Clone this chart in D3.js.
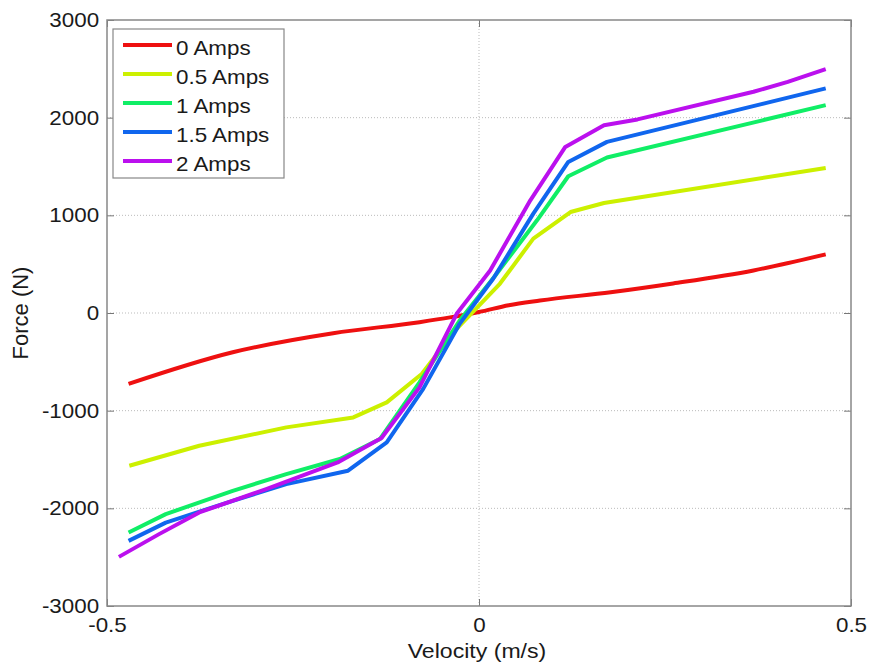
<!DOCTYPE html>
<html><head><meta charset="utf-8">
<script src="https://cdn.jsdelivr.net/npm/d3@7"></script>
<style>body{margin:0;background:#fff}svg{display:block}text{font-family:"Liberation Sans",Arial,sans-serif}</style>
</head><body>
<script>
const seriesNames = ["0 Amps","0.5 Amps","1 Amps","1.5 Amps","2 Amps"];
const seriesColors = ["#ee1010","#ccf000","#10ee66","#1066ee","#bb10ee"];
const amps0 = [[-0.471,-726],[-0.331,-402],[-0.196,-207],[-0.080,-94],[-0.039,-45],[0.000,10],[0.040,80],[0.082,128],[0.177,213],[0.261,303],[0.369,436],[0.466,600]];
const amps05 = [[-0.470,-1564],[-0.376,-1359],[-0.259,-1171],[-0.169,-1069],[-0.124,-915],[-0.077,-624],[-0.032,-179],[0.028,299],[0.073,761],[0.123,1034],[0.168,1126],[0.466,1485]];
const amps1 = [[-0.471,-2248],[-0.421,-2059],[-0.331,-1821],[-0.259,-1649],[-0.187,-1495],[-0.133,-1290],[-0.080,-710],[-0.026,-77],[0.022,385],[0.078,949],[0.120,1400],[0.172,1592],[0.466,2128]];
const amps15 = [[-0.471,-2333],[-0.421,-2146],[-0.331,-1923],[-0.259,-1752],[-0.176,-1615],[-0.124,-1325],[-0.075,-777],[-0.026,-111],[0.019,351],[0.073,1017],[0.120,1547],[0.172,1752],[0.466,2300]];
const amps2 = [[-0.484,-2497],[-0.430,-2264],[-0.376,-2042],[-0.286,-1803],[-0.190,-1530],[-0.131,-1280],[-0.080,-761],[-0.030,-8],[0.015,436],[0.069,1154],[0.116,1700],[0.168,1923],[0.213,1982],[0.369,2265],[0.415,2367],[0.466,2497]];
const seriesData = [amps0, amps05, amps1, amps15, amps2];
const xTicks = [-0.5, 0, 0.5];
const xTickLabels = ["-0.5","0","0.5"];
const yTicks = [-3000,-2000,-1000,0,1000,2000,3000];
const yTickLabels = ["-3000","-2000","-1000","0","1000","2000","3000"];

const W = 870, H = 669;
const L = 107, R = 851, T = 20, B = 606;
const SX = 1.12;
const svg = d3.select("body").append("svg").attr("width", W).attr("height", H);
const x = d3.scaleLinear().domain([-0.5, 0.5]).range([L, R]);
const y = d3.scaleLinear().domain([-3000, 3000]).range([B, T]);

// grid
svg.append("g").selectAll("line").data(xTicks.filter(d => d > -0.5 && d < 0.5)).join("line")
  .attr("x1", d => x(d)).attr("x2", d => x(d)).attr("y1", T).attr("y2", B)
  .attr("stroke", "#bbb").attr("stroke-width", 1).attr("stroke-dasharray", "1,2");
svg.append("g").selectAll("line").data(yTicks.filter(d => d > -3000 && d < 3000)).join("line")
  .attr("x1", L).attr("x2", R).attr("y1", d => y(d)).attr("y2", d => y(d))
  .attr("stroke", "#bbb").attr("stroke-width", 1).attr("stroke-dasharray", "1,2");

// axes (MATLAB style, inward ticks)
const ax = svg.append("g").attr("transform", `translate(0,${B})`)
  .call(d3.axisBottom(x).tickValues(xTicks).tickFormat((d, i) => xTickLabels[i]).tickSizeInner(-7).tickSizeOuter(0).tickPadding(12));
const ay = svg.append("g").attr("transform", `translate(${L},0)`)
  .call(d3.axisLeft(y).tickValues(yTicks).tickFormat((d, i) => yTickLabels[i]).tickSizeInner(-7).tickSizeOuter(0).tickPadding(7));
const axTop = svg.append("g").attr("transform", `translate(0,${T})`)
  .call(d3.axisTop(x).tickValues(xTicks).tickFormat("").tickSizeInner(-7).tickSizeOuter(0));
const ayR = svg.append("g").attr("transform", `translate(${R},0)`)
  .call(d3.axisRight(y).tickValues(yTicks).tickFormat("").tickSizeInner(-7).tickSizeOuter(0));
[ax, ay, axTop, ayR].forEach(g => {
  g.select(".domain").remove();
  g.selectAll("line").attr("stroke", "#777");
  g.selectAll("text").attr("font-size", 20).attr("fill", "#1a1a1a").attr("transform", `scale(${SX},1)`);
});
svg.append("rect").attr("x", L).attr("y", T).attr("width", R - L).attr("height", B - T)
  .attr("fill", "none").attr("stroke", "#888").attr("stroke-width", 1.5);

// lines
const lineSmooth = d3.line().x(d => x(d[0])).y(d => y(d[1])).curve(d3.curveMonotoneX);
const lineStraight = d3.line().x(d => x(d[0])).y(d => y(d[1]));
seriesData.forEach((s, i) => {
  svg.append("path").datum(s).attr("d", i === 0 ? lineSmooth : lineStraight).attr("fill", "none")
    .attr("stroke", seriesColors[i]).attr("stroke-width", 4).attr("stroke-linejoin", "round");
});

// axis titles
svg.append("g").attr("transform", `translate(${(L + R) / 2 - 2},658) scale(1.1,1)`)
  .append("text").attr("text-anchor", "middle")
  .attr("font-size", 21).attr("fill", "#1a1a1a").text("Velocity (m/s)");
svg.append("text").attr("transform", `translate(28,${(T + B) / 2}) rotate(-90)`).attr("text-anchor", "middle")
  .attr("font-size", 22).attr("fill", "#1a1a1a").text("Force (N)");

// legend
const lg = svg.append("g");
lg.append("rect").attr("x", 113).attr("y", 29).attr("width", 171).attr("height", 149)
  .attr("fill", "#fff").attr("stroke", "#888").attr("stroke-width", 1.2);
seriesNames.forEach((n, i) => {
  const yy = 45 + i * 29;
  lg.append("line").attr("x1", 123).attr("x2", 172).attr("y1", yy).attr("y2", yy)
    .attr("stroke", seriesColors[i]).attr("stroke-width", 4);
  lg.append("g").attr("transform", `translate(176,${yy + 9.5}) scale(${SX},1)`)
    .append("text").attr("font-size", 20).attr("fill", "#1a1a1a").text(n);
});
</script>
</body></html>
